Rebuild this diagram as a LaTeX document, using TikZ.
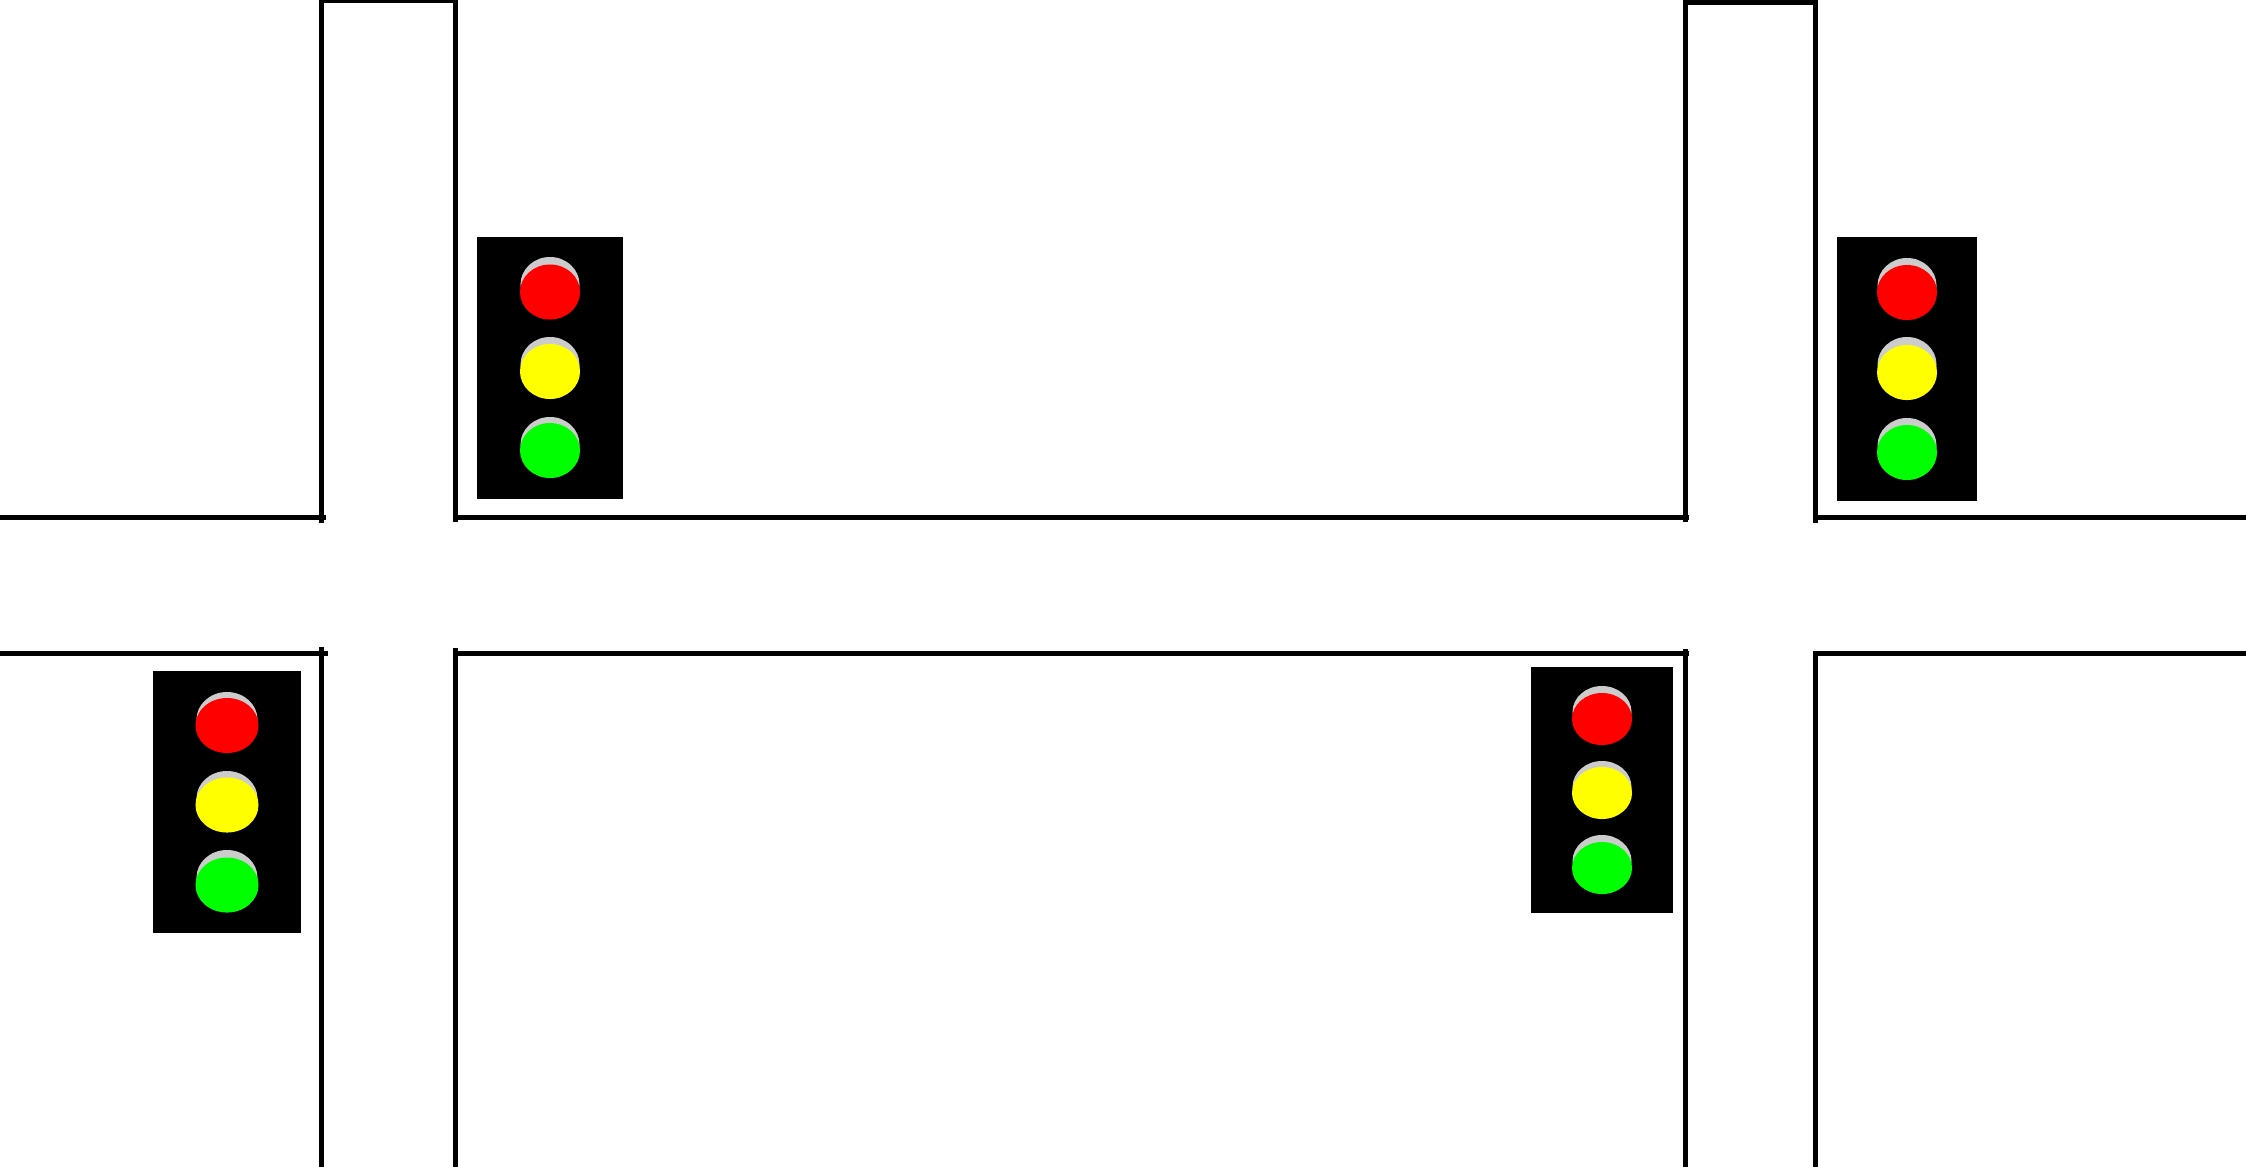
\documentclass[tikz,border=0pt]{standalone}
\usepackage{tikz}
\usetikzlibrary{shapes.geometric}
\definecolor{capgray}{HTML}{CCCCCC}
\definecolor{lampred}{HTML}{FF0000}
\definecolor{lampyellow}{HTML}{FFFF00}
\definecolor{lampgreen}{HTML}{00FF00}

\begin{document}
\begin{tikzpicture}[
		x=0.01cm, y=-0.01cm,
		road/.style={line width=0.05cm, draw=black},
		housing/.style={rectangle, fill=black, inner sep=0pt},
		lamp/.style={ellipse, inner sep=0pt, minimum width=0.60cm, minimum height=0.55cm},
		lampcap/.style={lamp, fill=capgray, minimum width=0.59cm}
		]

		\useasboundingbox (0, 0) rectangle (2246, 1166);

		% horizontal kerbs
		\draw[road] (-9, 517) -- (326, 517);
		\draw[road] (455, 517) -- (1689, 517);
		\draw[road] (1815, 517) -- (2255, 517);
		\draw[road] (-9, 653) -- (328, 653);
		\draw[road] (455, 653) -- (1689, 653);
		\draw[road] (1815, 653) -- (2255, 653);

		% vertical kerbs
		\draw[road] (321.5, 523) -- (321.5, 0) -- (455.5, 0) -- (455.5, 522);
		\draw[road] (1685, 522) -- (1685, 2) -- (1815, 2) -- (1815, 523);
		\draw[road] (321.5, 647) -- (321.5, 1175);
		\draw[road] (455.5, 648) -- (455.5, 1175);
		\draw[road] (1685, 649) -- (1685, 1175);
		\draw[road] (1815, 651) -- (1815, 1175);

		% upper left signal
		\node[housing, minimum width=1.46cm, minimum height=2.62cm] (signalA) at (550, 368) {};
		\node[lampcap] (capAr) at (550, 284.5) {};
		\node[lamp, fill=lampred] (redA) at (550, 292) {};
		\node[lampcap] (capAy) at (550, 364.5) {};
		\node[lamp, fill=lampyellow] (yellowA) at (550, 371.5) {};
		\node[lampcap] (capAg) at (550, 444.5) {};
		\node[lamp, fill=lampgreen] (greenA) at (550, 450.5) {};

		% upper right signal
		\node[housing, minimum width=1.40cm, minimum height=2.64cm] (signalB) at (1907, 369) {};
		\node[lampcap] (capBr) at (1907, 285.5) {};
		\node[lamp, fill=lampred] (redB) at (1907, 292.5) {};
		\node[lampcap] (capBy) at (1907, 364.5) {};
		\node[lamp, fill=lampyellow] (yellowB) at (1907, 372.5) {};
		\node[lampcap] (capBg) at (1907, 445.5) {};
		\node[lamp, fill=lampgreen] (greenB) at (1907, 452.5) {};

		% lower left signal
		\node[housing, minimum width=1.48cm, minimum height=2.62cm] (signalC) at (227, 802) {};
		\node[lampcap, minimum width=0.61cm] (capCr) at (227, 719.5) {};
		\node[lamp, fill=lampred, minimum width=0.63cm] (redC) at (227, 725.5) {};
		\node[lampcap, minimum width=0.61cm] (capCy) at (227, 798.5) {};
		\node[lamp, fill=lampyellow, minimum width=0.63cm] (yellowC) at (227, 805) {};
		\node[lampcap, minimum width=0.61cm] (capCg) at (227, 877.5) {};
		\node[lamp, fill=lampgreen, minimum width=0.63cm] (greenC) at (227, 885) {};

		% lower right signal
		\node[housing, minimum width=1.42cm, minimum height=2.46cm] (signalD) at (1602, 790) {};
		\node[lampcap, minimum height=0.52cm] (capDr) at (1602, 712) {};
		\node[lamp, fill=lampred, minimum height=0.52cm] (redD) at (1602, 719) {};
		\node[lampcap, minimum height=0.52cm] (capDy) at (1602, 787) {};
		\node[lamp, fill=lampyellow, minimum height=0.52cm] (yellowD) at (1602, 793) {};
		\node[lampcap, minimum height=0.52cm] (capDg) at (1602, 861) {};
		\node[lamp, fill=lampgreen, minimum height=0.52cm] (greenD) at (1602, 868) {};

	\end{tikzpicture}
\end{document}
